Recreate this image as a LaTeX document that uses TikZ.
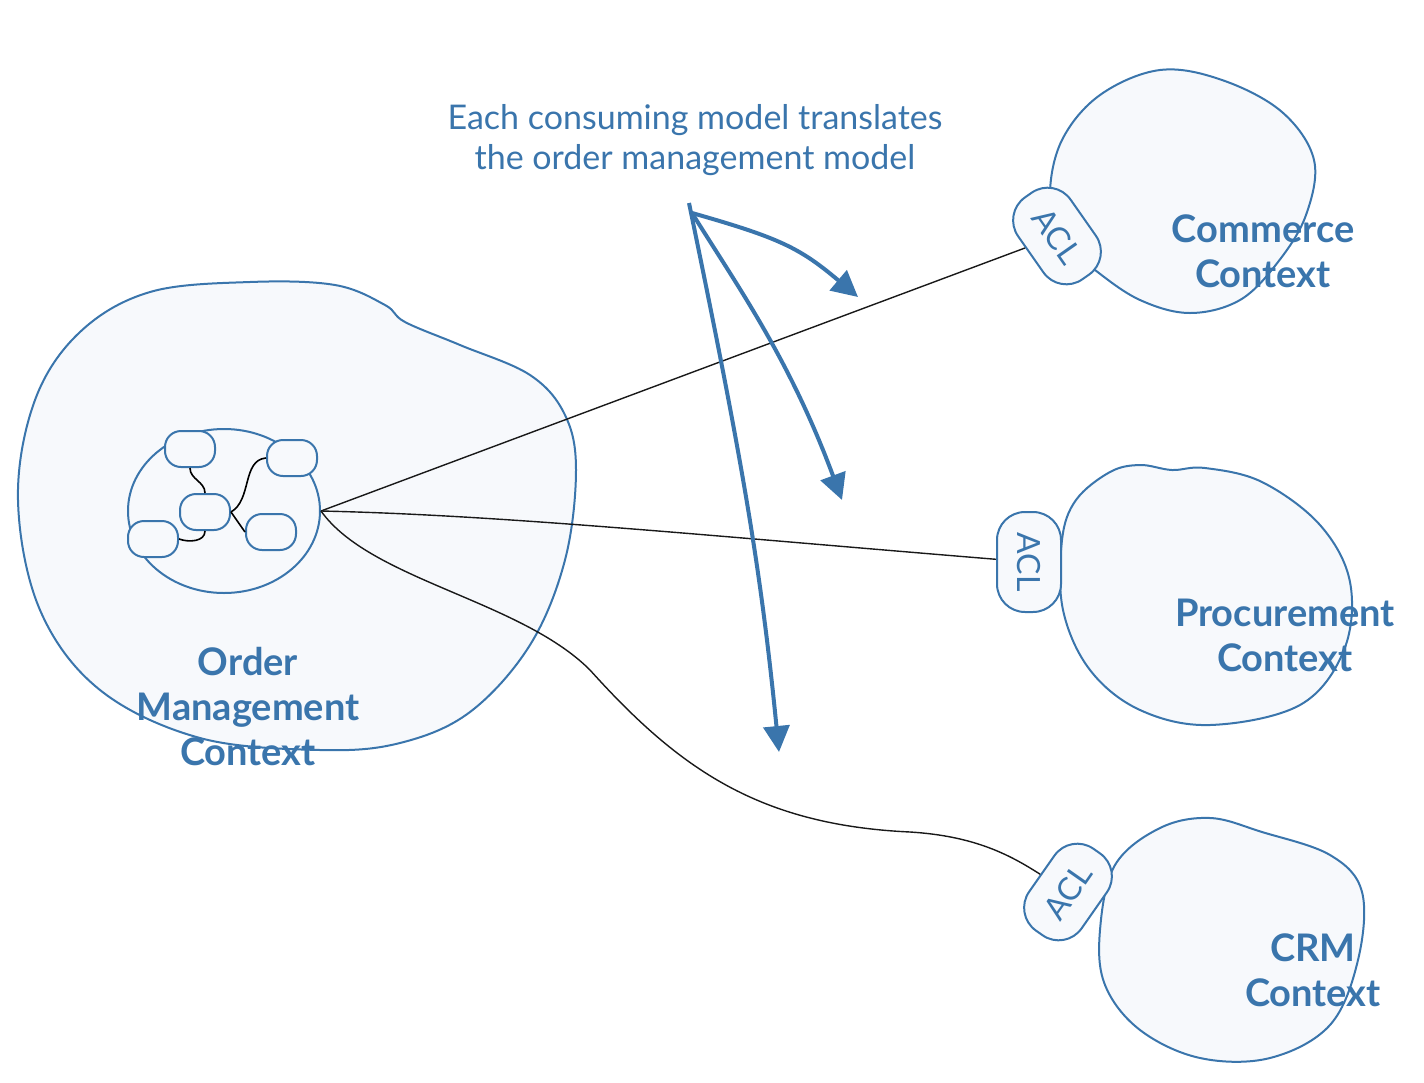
\documentclass[tikz,border=0pt]{standalone}
\usepackage{fontspec}
\setmainfont{Lato}
\usetikzlibrary{arrows.meta,shapes.geometric,positioning}
\definecolor{ctxblue}{RGB}{58,117,172}
\definecolor{ctxfill}{RGB}{247,249,252}

\begin{document}
\begin{tikzpicture}[x=0.5pt,y=-0.5pt,
    blob/.style={draw=ctxblue,fill=ctxfill,line width=1pt},
    acl/.style={draw=ctxblue,fill=ctxfill,line width=1pt,rounded corners=14pt,
      minimum width=50pt,minimum height=32pt,inner sep=0pt,text=ctxblue,
      font=\fontsize{16}{18}\selectfont},
    model/.style={draw=ctxblue,fill=ctxfill,line width=1pt,rounded corners=8pt,
      minimum width=25pt,minimum height=18pt,inner sep=0pt},
    ctxlabel/.style={text=ctxblue,font=\bfseries\fontsize{19}{22.5}\selectfont,align=center},
    link/.style={black!90,line width=0.7pt},
    translate/.style={ctxblue,line width=2pt,-{Triangle[length=13pt,width=13pt]}}]
  \useasboundingbox (0,0) rectangle (1424,1082);

  % bounded contexts
  \draw[blob] plot[smooth cycle,tension=0.6] coordinates {(18,500) (35,400) (80,332) (150,292)
    (250,282) (335,285) (385,305) (405,322) (460,345) (530,375) (565,415) (576,470)
    (565,560) (530,645) (470,712) (400,743) (320,750) (200,738) (100,690) (40,610)};
  \draw[blob] plot[smooth cycle,tension=0.6] coordinates {(1050,195) (1062,140) (1100,95)
    (1160,70) (1222,80) (1282,112) (1314,160) (1306,215) (1278,262) (1240,300)
    (1190,313) (1140,300) (1095,270) (1062,240)};
  \draw[blob] plot[smooth cycle,tension=0.6] coordinates {(1062,540) (1076,500) (1110,472)
    (1140,465) (1172,470) (1205,468) (1262,482) (1320,525) (1350,582) (1344,650)
    (1300,705) (1210,725) (1140,710) (1090,670) (1063,610)};
  \draw[blob] plot[smooth cycle,tension=0.6] coordinates {(1100,930) (1115,865) (1160,828)
    (1210,818) (1262,832) (1330,855) (1362,892) (1358,960) (1330,1025) (1270,1058)
    (1200,1058) (1140,1030) (1105,985)};

  % order management model
  \node[ellipse,draw=ctxblue,fill=ctxfill,line width=1pt,minimum width=96pt,
    minimum height=82pt,inner sep=0pt] (om) at (224,511) {};
  \node[model] (m1) at (190,449) {};
  \node[model] (m2) at (292,458) {};
  \node[model] (m3) at (205,512) {};
  \node[model] (m4) at (153,539) {};
  \node[model] (m5) at (271,532) {};
  \draw[black,line width=0.8pt] (m1.south) to[out=-90,in=90] (m3.north);
  \draw[black,line width=0.8pt] (m3.east) .. controls (252,500) and (242,460) .. (m2.west);
  \draw[black,line width=0.8pt] (m3.east) -- (m5.west);
  \draw[black,line width=0.8pt] (m3.south) to[out=-90,in=-20] (m4.east);

  % anticorruption layers
  \node[acl,rotate=-55] (cacl) at (1057,236) {ACL};
  \node[acl,rotate=-90] (pacl) at (1029,562) {ACL};
  \node[acl,rotate=55] (racl) at (1068,892) {ACL};

  \draw[link] (om.east) -- (cacl);
  \draw[link] (om.east) .. controls (500,515) and (700,535) .. (pacl);
  \draw[link] (om.east) .. controls (370,580) and (520,600) .. (590,670)
    .. controls (680,770) and (760,825) .. (910,832)
    .. controls (975,836) and (1010,855) .. (racl);

  % translations
  \node[text=ctxblue,font=\fontsize{17}{20}\selectfont,align=center] (note) at (695,140)
    {Each consuming model translates\\the order management model};
  \coordinate (fork) at (692,213);
  \coordinate (top) at (689,203);
  \coordinate (tip1) at (858,297);
  \coordinate (tip2) at (842,500);
  \coordinate (tip3) at (779,752);
  \draw[translate] (fork) .. controls (780,238) and (800,248) .. (tip1);
  \draw[translate] (fork) .. controls (740,290) and (790,360) .. (tip2);
  \draw[translate] (top) .. controls (740,450) and (760,560) .. (tip3);

  \node[ctxlabel] (commerce) at (1263,251) {Commerce\\Context};
  \node[ctxlabel] (procure) at (1285,635) {Procurement\\Context};
  \node[ctxlabel] (crm) at (1313,970) {CRM\\Context};
  \node[ctxlabel] (order) at (248,707) {Order\\Management\\Context};
\end{tikzpicture}
\end{document}
